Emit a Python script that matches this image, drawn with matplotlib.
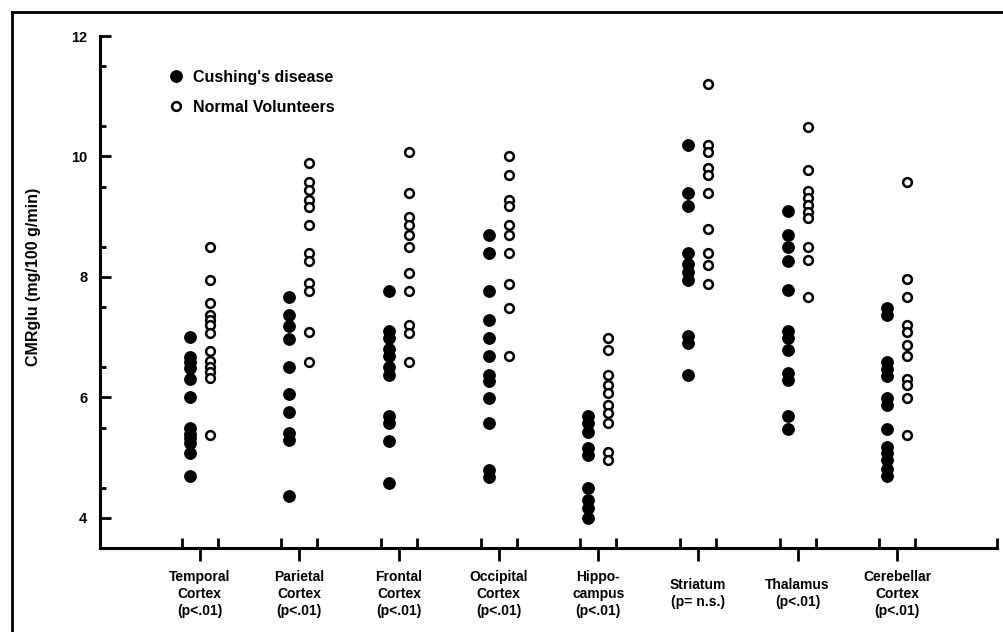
import numpy as np
import matplotlib.pyplot as plt
from matplotlib.lines import Line2D

plt.rcParams['font.family'] = ['Liberation Sans', 'DejaVu Sans']
plt.rcParams['font.weight'] = 'bold'

# Region labels (x axis)
regions = ['Temporal\nCortex\n(p<.01)', 'Parietal\nCortex\n(p<.01)', 'Frontal\nCortex\n(p<.01)',
           'Occipital\nCortex\n(p<.01)', 'Hippo-\ncampus\n(p<.01)', 'Striatum\n(p= n.s.)',
           'Thalamus\n(p<.01)', 'Cerebellar\nCortex\n(p<.01)']

# CMRglu values, Cushing's disease (filled) / normal volunteers (open)
temporal_cd = [7.0, 6.67, 6.58, 6.48, 6.3, 6.0, 5.5, 5.4, 5.32, 5.25, 5.08, 4.7]
temporal_nv = [8.5, 7.95, 7.57, 7.37, 7.29, 7.2, 7.07, 6.77, 6.6, 6.5, 6.42, 6.33, 5.38]
parietal_cd = [7.66, 7.37, 7.18, 6.97, 6.5, 6.06, 5.76, 5.41, 5.3, 4.37]
parietal_nv = [9.89, 9.57, 9.45, 9.27, 9.16, 8.87, 8.4, 8.27, 7.9, 7.77, 7.08, 6.59]
frontal_cd = [7.77, 7.11, 6.98, 6.8, 6.69, 6.51, 6.37, 5.69, 5.57, 5.28, 4.58]
frontal_nv = [10.08, 9.39, 9.0, 8.87, 8.69, 8.49, 8.07, 7.77, 7.2, 7.07, 6.58]
occipital_cd = [8.69, 8.39, 7.77, 7.29, 6.98, 6.68, 6.37, 6.27, 5.99, 5.58, 4.8, 4.68]
occipital_nv = [10.0, 9.69, 9.28, 9.18, 8.87, 8.69, 8.39, 7.88, 7.48, 6.68]
hippocampus_cd = [5.69, 5.57, 5.43, 5.16, 5.05, 4.49, 4.3, 4.16, 3.99]
hippocampus_nv = [6.98, 6.79, 6.37, 6.21, 6.07, 5.88, 5.74, 5.58, 5.1, 4.96]
striatum_cd = [10.19, 9.4, 9.18, 8.39, 8.22, 8.09, 7.95, 7.02, 6.9, 6.37]
striatum_nv = [11.2, 10.19, 10.08, 9.81, 9.69, 9.4, 8.8, 8.39, 8.2, 7.88]
thalamus_cd = [9.1, 8.7, 8.5, 8.27, 7.78, 7.11, 6.98, 6.78, 6.4, 6.29, 5.69, 5.47]
thalamus_nv = [10.49, 9.78, 9.42, 9.31, 9.2, 9.08, 8.98, 8.49, 8.28, 7.66]
cerebellar_cd = [7.48, 7.37, 6.58, 6.47, 6.36, 5.99, 5.88, 5.47, 5.18, 5.07, 4.96, 4.81, 4.7]
cerebellar_nv = [9.57, 7.96, 7.66, 7.2, 7.08, 6.87, 6.68, 6.3, 6.21, 5.99, 5.38]

cushing = [temporal_cd, parietal_cd, frontal_cd, occipital_cd,
           hippocampus_cd, striatum_cd, thalamus_cd, cerebellar_cd]
normal = [temporal_nv, parietal_nv, frontal_nv, occipital_nv,
          hippocampus_nv, striatum_nv, thalamus_nv, cerebellar_nv]

fig = plt.figure(figsize=(10.04, 6.32), dpi=100)
ax = fig.add_axes([100 / 1004, 1 - 548 / 632, 897 / 1004, 512 / 632])

offset = 0.1
for i, (cd, nv) in enumerate(zip(cushing, normal)):
    ax.plot(np.full(len(cd), i - offset), cd, 'o', color='black', markersize=8.2,
            linestyle='none', clip_on=False)
    ax.plot(np.full(len(nv), i + offset), nv, 'o', markerfacecolor='white',
            markeredgecolor='black', markeredgewidth=1.8, markersize=6.3,
            linestyle='none', clip_on=False)

ax.set_xlim(-1, 8)
ax.set_ylim(3.5, 12)

# spines
for s in ['top', 'right']:
    ax.spines[s].set_visible(False)
for s in ['left', 'bottom']:
    ax.spines[s].set_linewidth(2.2)

# y ticks
ax.set_yticks([4, 6, 8, 10, 12])
ax.set_yticks(np.arange(4.5, 12, 1.0), minor=True)
ax.tick_params(axis='y', which='major', direction='in', length=8, width=2,
               labelsize=10.5, pad=9)
ax.tick_params(axis='y', which='minor', direction='in', length=4, width=2)
ax.set_ylabel('CMRglu (mg/100 g/min)', fontsize=11.5, fontweight='bold')
ax.yaxis.set_label_coords(-0.066, 0.53)

# x ticks: region centres pointing down, column marks pointing up
centers = np.arange(len(regions))
ax.set_xticks(centers)
ax.set_xticklabels(regions, fontsize=10, linespacing=1.25)
col_marks = list(np.concatenate([centers - 0.18, centers + 0.18])) + [8]
ax.set_xticks(col_marks, minor=True)
ax.tick_params(axis='x', which='major', direction='out', length=9, width=2, pad=24)
ax.tick_params(axis='x', which='minor', direction='in', length=7, width=2)
for lab in ax.get_xticklabels():
    lab.set_verticalalignment('center')

# legend
handles = [Line2D([], [], marker='o', color='black', linestyle='none', markersize=8.2),
           Line2D([], [], marker='o', markerfacecolor='white', markeredgecolor='black',
                  markeredgewidth=1.8, markersize=6.3, linestyle='none')]
ax.legend(handles, ["Cushing's disease", 'Normal Volunteers'], loc='upper left',
          bbox_to_anchor=(0.06, 0.962), frameon=False,
          handlelength=1.0, handletextpad=0.55, labelspacing=0.95,
          prop={'weight': 'bold', 'size': 11.5})

# outer frame of the scanned figure
fig.add_artist(Line2D([12 / 1004, 12 / 1004], [0, 1 - 12 / 632], color='black', lw=2,
                      transform=fig.transFigure))
fig.add_artist(Line2D([12 / 1004, 1], [1 - 12 / 632, 1 - 12 / 632], color='black', lw=2,
                      transform=fig.transFigure))

fig.savefig('out.png', dpi=100)
